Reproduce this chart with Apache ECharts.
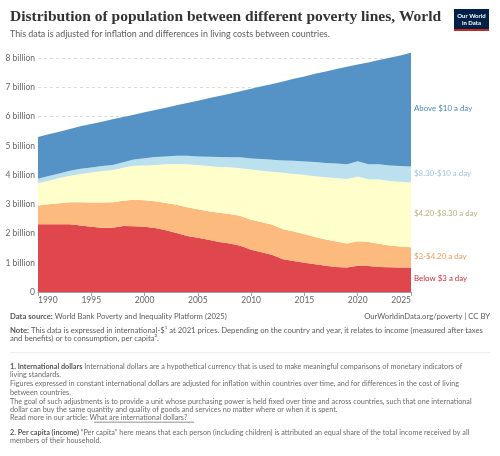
<!DOCTYPE html>
<html>
<head>
<meta charset="utf-8">
<script src="https://cdn.jsdelivr.net/npm/echarts@6/dist/echarts.min.js"></script>
<style>
  html, body { margin: 0; padding: 0; background: #fff; }
  #chart { width: 500px; height: 456px; }
</style>
</head>
<body>
<div id="chart"></div>
<script>
// values in billions of people
const years = ['1990', '1991', '1992', '1993', '1994', '1995', '1996', '1997', '1998', '1999',
  '2000', '2001', '2002', '2003', '2004', '2005', '2006', '2007', '2008', '2009',
  '2010', '2011', '2012', '2013', '2014', '2015', '2016', '2017', '2018', '2019',
  '2020', '2021', '2022', '2023', '2024', '2025'];

const below3 = [2.32, 2.32, 2.32, 2.32, 2.28, 2.23, 2.20, 2.20, 2.26, 2.25,
  2.23, 2.19, 2.11, 2.02, 1.92, 1.86, 1.79, 1.71, 1.66, 1.58,
  1.45, 1.36, 1.27, 1.12, 1.06, 1.00, 0.95, 0.90, 0.86, 0.84,
  0.90, 0.89, 0.86, 0.85, 0.84, 0.84];
const from3to420 = [0.64, 0.68, 0.72, 0.75, 0.79, 0.83, 0.86, 0.87, 0.86, 0.91,
  0.91, 0.92, 0.94, 0.97, 0.98, 0.97, 0.97, 1.00, 1.01, 1.02,
  1.02, 1.03, 1.03, 1.03, 1.01, 0.98, 0.93, 0.90, 0.87, 0.82,
  0.84, 0.82, 0.79, 0.74, 0.72, 0.69];
const from420to830 = [0.76, 0.81, 0.86, 0.91, 0.97, 1.03, 1.08, 1.11, 1.13, 1.16,
  1.19, 1.24, 1.32, 1.39, 1.47, 1.52, 1.55, 1.57, 1.60, 1.64,
  1.72, 1.76, 1.82, 1.93, 1.97, 2.03, 2.08, 2.13, 2.17, 2.21,
  2.21, 2.15, 2.20, 2.21, 2.21, 2.22];
const from830to10 = [0.16, 0.16, 0.16, 0.17, 0.18, 0.17, 0.17, 0.17, 0.19, 0.22,
  0.25, 0.27, 0.27, 0.28, 0.29, 0.29, 0.32, 0.34, 0.34, 0.37,
  0.38, 0.40, 0.41, 0.42, 0.45, 0.46, 0.49, 0.49, 0.50, 0.50,
  0.53, 0.51, 0.52, 0.53, 0.54, 0.55];
const above10 = [1.43, 1.43, 1.43, 1.43, 1.45, 1.49, 1.52, 1.56, 1.55, 1.53,
  1.57, 1.61, 1.67, 1.73, 1.81, 1.91, 2.00, 2.09, 2.18, 2.26,
  2.39, 2.49, 2.59, 2.71, 2.81, 2.91, 3.02, 3.13, 3.23, 3.34,
  3.31, 3.49, 3.57, 3.69, 3.79, 3.89];

const seriesNames = ['Below $3 a day', '$3-$4.20 a day', '$4.20-$8.30 a day', '$8.30-$10 a day', 'Above $10 a day'];
const seriesValues = [below3, from3to420, from420to830, from830to10, above10];
const areaColors = ['#e0474c', '#fcba7e', '#ffffcc', '#bbe0ee', '#5592c5'];
const labelColors = ['#d92b35', '#ee9c5b', '#b4b27e', '#9cc6d9', '#4a88c2'];

const chart = echarts.init(document.getElementById('chart'));
const font = 'Lato, "Noto Sans", sans-serif';

chart.setOption({
  animation: false,
  grid: { left: 38, right: 89, top: 51, bottom: 164 },
  xAxis: {
    type: 'category',
    data: years,
    boundaryGap: false,
    axisLine: { lineStyle: { color: '#a0a0a0' } },
    axisTick: { show: true, length: 4, interval: 4, lineStyle: { color: '#a0a0a0' } },
    splitLine: { show: false },
    axisLabel: {
      color: '#666', fontSize: 8.5, fontFamily: font, margin: 4, interval: 4,
      alignMinLabel: 'left', alignMaxLabel: 'right'
    }
  },
  yAxis: {
    type: 'value',
    min: 0,
    max: 8.25,
    interval: 1,
    axisLine: { show: false },
    axisTick: { show: false },
    splitLine: { showMaxLine: false, lineStyle: { color: '#dcdcdc', type: [3, 3] } },
    axisLabel: {
      color: '#666', fontSize: 8.5, fontFamily: font, margin: 3, showMaxLabel: false,
      formatter: v => v === 0 ? '0' : v + ' billion'
    }
  },
  series: seriesNames.map((name, i) => ({
    name: name,
    type: 'line',
    stack: 'total',
    symbol: 'none',
    lineStyle: { width: 0 },
    areaStyle: { color: areaColors[i], opacity: 1 },
    data: seriesValues[i]
  }))
});

// band labels at the middle of each band in the last year
const last = years.length - 1;
let base = 0;
const bandLabels = seriesNames.map((name, i) => {
  const v = seriesValues[i][last];
  const pt = chart.convertToPixel({ gridIndex: 0 }, [years[last], base + v / 2]);
  base += v;
  return {
    type: 'text', left: pt[0] + 3, top: pt[1] - 5,
    style: { text: name, fill: labelColors[i], font: '7.9px ' + font }
  };
});

const grey = '#5b5b5b';
const small = '7.7px ' + font;
const foot = (y, rich, text) => ({
  type: 'text', left: 10, top: y,
  style: { text: text, fill: '#6b6b6b', font: '7.25px ' + font, rich: rich }
});
const boldRich = { b: { fontWeight: 'bold', fill: '#555', fontSize: 7.25, fontFamily: font } };

chart.setOption({
  graphic: [
    { type: 'text', left: 10, top: 9,
      style: { text: 'Distribution of population between different poverty lines, World',
        fill: '#333', font: 'bold 15.5px "Liberation Serif", serif' } },
    { type: 'text', left: 10, top: 29.5,
      style: { text: 'This data is adjusted for inflation and differences in living costs between countries.',
        fill: '#5b5b5b', font: '8.9px ' + font } },
    // logo
    { type: 'rect', shape: { x: 454, y: 9, width: 35, height: 20 }, style: { fill: '#002147' } },
    { type: 'rect', shape: { x: 454, y: 29, width: 35, height: 2 }, style: { fill: '#ce261e' } },
    { type: 'text', x: 471.5, y: 19.5,
      style: { text: 'Our World\nin Data', fill: '#fff', font: 'bold 6px ' + font,
        align: 'center', verticalAlign: 'middle', lineHeight: 7 } },
    ...bandLabels,
    // footer
    { type: 'text', left: 10, top: 313,
      style: { text: '{b|Data source:} World Bank Poverty and Inequality Platform (2025)', fill: grey, font: small,
        rich: { b: { fontWeight: 'bold', fill: '#555', fontSize: 7.7, fontFamily: font } } } },
    { type: 'text', right: 10, top: 313,
      style: { text: 'OurWorldinData.org/poverty | CC BY', fill: grey, font: small } },
    { type: 'text', left: 10, top: 326,
      style: { text: '{b|Note:} This data is expressed in international-$¹ at 2021 prices. Depending on the country and year, it relates to income (measured after taxes\nand benefits) or to consumption, per capita².',
        fill: grey, font: small, lineHeight: 8.6,
        rich: { b: { fontWeight: 'bold', fill: '#555', fontSize: 7.7, fontFamily: font } } } },
    { type: 'rect', shape: { x: 10, y: 352, width: 480, height: 0.8 }, style: { fill: '#e8e8e8' } },
    foot(363, boldRich, '{b|1. International dollars} International dollars are a hypothetical currency that is used to make meaningful comparisons of monetary indicators of'),
    foot(371.5, boldRich, 'living standards.'),
    foot(380.5, boldRich, 'Figures expressed in constant international dollars are adjusted for inflation within countries over time, and for differences in the cost of living'),
    foot(389, boldRich, 'between countries.'),
    foot(398, boldRich, 'The goal of such adjustments is to provide a unit whose purchasing power is held fixed over time and across countries, such that one international'),
    foot(406.5, boldRich, 'dollar can buy the same quantity and quality of goods and services no matter where or when it is spent.'),
    foot(414.5, boldRich, 'Read more in our article: What are international dollars?'),
    { type: 'rect', shape: { x: 94, y: 421.8, width: 100, height: 0.6 }, style: { fill: '#6b6b6b' } },
    foot(429, boldRich, '{b|2. Per capita (income)} \u201cPer capita\u201d here means that each person (including children) is attributed an equal share of the total income received by all'),
    foot(437.5, boldRich, 'members of their household.')
  ]
});
</script>
</body>
</html>
